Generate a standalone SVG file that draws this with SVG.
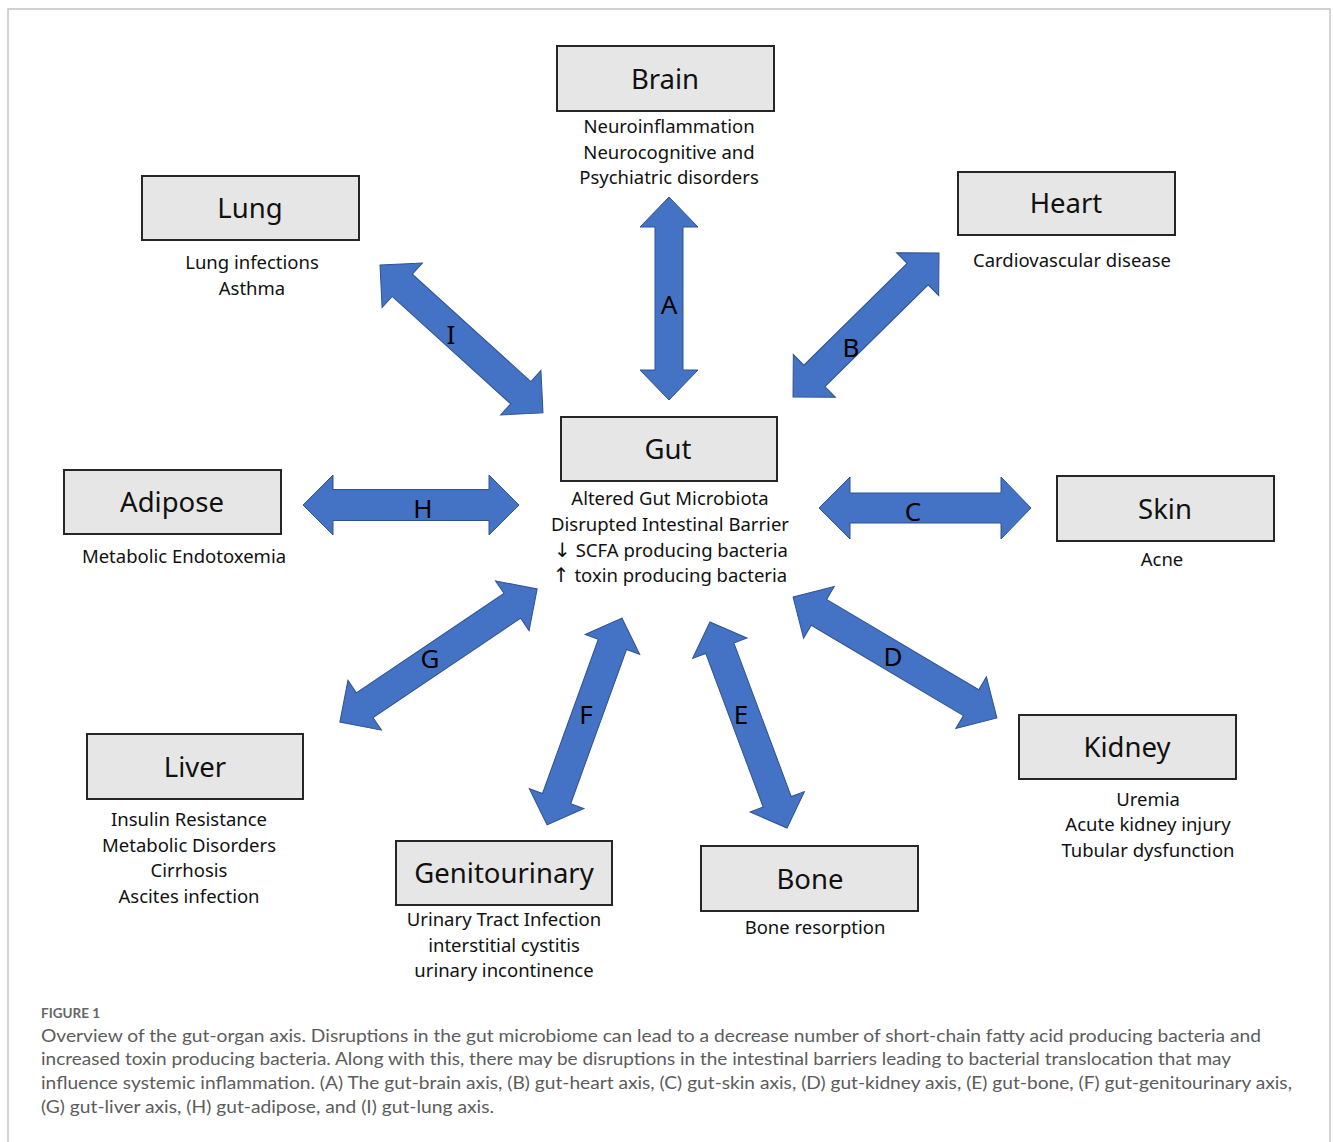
<svg xmlns="http://www.w3.org/2000/svg" width="1333" height="1142" viewBox="0 0 1333 1142">
<style>
.frame{fill:#fff;stroke:#c4c4c4;stroke-width:1.5}
.box{fill:#e7e6e6;stroke:#262626;stroke-width:2}
.title{font-family:"Noto Sans","Open Sans",sans-serif;font-size:27.5px;fill:#111;text-anchor:middle}
.sub{font-family:"Noto Sans","Open Sans",sans-serif;font-size:18.5px;fill:#111;text-anchor:middle}
.sym{font-family:"DejaVu Sans",sans-serif;font-size:20px;fill:#111}
.arr{fill:#4472c4;stroke:#2f528f;stroke-width:1}
.lbl{font-family:"Noto Sans","Open Sans",sans-serif;font-size:26px;fill:#000;text-anchor:middle}
.figno{font-family:Lato,"Open Sans",sans-serif;font-size:13.5px;fill:#666;font-weight:700}
.cap{font-family:Lato,"Open Sans",sans-serif;font-size:17.5px;fill:#5c5c5c;font-weight:400}
</style>
<rect class="frame" x="8" y="9" width="1322" height="1150"/>

<g id="connectors">
  <g id="arrow-A">
    <path class="arr" transform="translate(669,298.5) rotate(90)" d="M-101.5,0 L-71.5,-29 L-71.5,-14 L71.5,-14 L71.5,-29 L101.5,0 L71.5,29 L71.5,14 L-71.5,14 L-71.5,29 Z"/>
    <text class="lbl" x="669" y="314">A</text>
  </g>
  <g id="arrow-B">
    <path class="arr" transform="translate(866,325) rotate(-44.6)" d="M-102.5,0 L-72.5,-30 L-72.5,-15 L72.5,-15 L72.5,-30 L102.5,0 L72.5,30 L72.5,15 L-72.5,15 L-72.5,30 Z"/>
    <text class="lbl" x="851" y="357">B</text>
  </g>
  <g id="arrow-C">
    <path class="arr" transform="translate(925,508)" d="M-106,0 L-75,-31 L-75,-15 L76,-15 L76,-31 L106,0 L76,31 L76,15 L-75,15 L-75,31 Z"/>
    <text class="lbl" x="913" y="521">C</text>
  </g>
  <g id="arrow-D">
    <path class="arr" transform="translate(895,657.5) rotate(30.7)" d="M-118.5,0 L-88.5,-30 L-88.5,-15 L88.5,-15 L88.5,-30 L118.5,0 L88.5,30 L88.5,15 L-88.5,15 L-88.5,30 Z"/>
    <text class="lbl" x="893" y="666">D</text>
  </g>
  <g id="arrow-E">
    <path class="arr" transform="translate(748.5,725) rotate(69.5)" d="M-110,0 L-82,-29 L-82,-15 L82,-15 L82,-29 L110,0 L82,29 L82,15 L-82,15 L-82,29 Z"/>
    <text class="lbl" x="741" y="724">E</text>
  </g>
  <g id="arrow-F">
    <path class="arr" transform="translate(584.5,721.5) rotate(109.9)" d="M-110,0 L-82,-29 L-82,-15 L82,-15 L82,-29 L110,0 L82,29 L82,15 L-82,15 L-82,29 Z"/>
    <text class="lbl" x="586" y="724">F</text>
  </g>
  <g id="arrow-G">
    <path class="arr" transform="translate(438.5,655.5) rotate(-34)" d="M-119,0 L-89,-30 L-89,-15 L89,-15 L89,-30 L119,0 L89,30 L89,15 L-89,15 L-89,30 Z"/>
    <text class="lbl" x="430" y="668">G</text>
  </g>
  <g id="arrow-H">
    <path class="arr" transform="translate(411,505)" d="M-108,0 L-78,-30 L-78,-15.5 L78,-15.5 L78,-30 L108,0 L78,30 L78,15.5 L-78,15.5 L-78,30 Z"/>
    <text class="lbl" x="423" y="518">H</text>
  </g>
  <g id="arrow-I">
    <path class="arr" transform="translate(461.5,339) rotate(42.2)" d="M-110,0 L-80,-30 L-80,-15 L80,-15 L80,-30 L110,0 L80,30 L80,15 L-80,15 L-80,30 Z"/>
    <text class="lbl" x="451" y="344">I</text>
  </g>
</g>

<g id="brain">
  <rect class="box" x="557" y="46" width="217" height="65"/>
  <text class="title" x="665" y="89">Brain</text>
  <text class="sub" x="669" y="133">Neuroinflammation</text>
  <text class="sub" x="669" y="159">Neurocognitive and</text>
  <text class="sub" x="669" y="184">Psychiatric disorders</text>
</g>
<g id="lung">
  <rect class="box" x="142" y="176" width="217" height="64"/>
  <text class="title" x="250" y="218">Lung</text>
  <text class="sub" x="252" y="269">Lung infections</text>
  <text class="sub" x="252" y="295">Asthma</text>
</g>
<g id="heart">
  <rect class="box" x="958" y="172" width="217" height="63"/>
  <text class="title" x="1066" y="213">Heart</text>
  <text class="sub" x="1072" y="267">Cardiovascular disease</text>
</g>
<g id="gut">
  <rect class="box" x="561" y="417" width="216" height="64"/>
  <text class="title" x="668" y="459">Gut</text>
  <text class="sub" x="670" y="505">Altered Gut Microbiota</text>
  <text class="sub" x="670" y="531">Disrupted Intestinal Barrier</text>
  <text class="sub" x="671" y="557"><tspan class="sym">↓</tspan>  SCFA producing bacteria</text>
  <text class="sub" x="670" y="582"><tspan class="sym">↑</tspan> toxin producing bacteria</text>
</g>
<g id="adipose">
  <rect class="box" x="64" y="470" width="217" height="64"/>
  <text class="title" x="172" y="512">Adipose</text>
  <text class="sub" x="184" y="563">Metabolic Endotoxemia</text>
</g>
<g id="skin">
  <rect class="box" x="1057" y="476" width="217" height="65"/>
  <text class="title" x="1165" y="519">Skin</text>
  <text class="sub" x="1162" y="566">Acne</text>
</g>
<g id="liver">
  <rect class="box" x="87" y="734" width="216" height="65"/>
  <text class="title" x="195" y="777">Liver</text>
  <text class="sub" x="189" y="826">Insulin Resistance</text>
  <text class="sub" x="189" y="852">Metabolic Disorders</text>
  <text class="sub" x="189" y="877">Cirrhosis</text>
  <text class="sub" x="189" y="903">Ascites infection</text>
</g>
<g id="kidney">
  <rect class="box" x="1019" y="715" width="217" height="64"/>
  <text class="title" x="1127" y="757">Kidney</text>
  <text class="sub" x="1148" y="806">Uremia</text>
  <text class="sub" x="1148" y="831">Acute kidney injury</text>
  <text class="sub" x="1148" y="857">Tubular dysfunction</text>
</g>
<g id="genitourinary">
  <rect class="box" x="396" y="841" width="216" height="64"/>
  <text class="title" x="504" y="883">Genitourinary</text>
  <text class="sub" x="504" y="926">Urinary Tract Infection</text>
  <text class="sub" x="504" y="952">interstitial cystitis</text>
  <text class="sub" x="504" y="977">urinary incontinence</text>
</g>
<g id="bone">
  <rect class="box" x="701" y="846" width="217" height="65"/>
  <text class="title" x="810" y="889">Bone</text>
  <text class="sub" x="815" y="934">Bone resorption</text>
</g>

<g id="caption">
  <text class="figno" x="41" y="1018">FIGURE 1</text>
  <text class="cap" x="41" y="1042" textLength="1220" lengthAdjust="spacingAndGlyphs">Overview of the gut-organ axis. Disruptions in the gut microbiome can lead to a decrease number of short-chain fatty acid producing bacteria and</text>
  <text class="cap" x="41" y="1065" textLength="1190" lengthAdjust="spacingAndGlyphs">increased toxin producing bacteria. Along with this, there may be disruptions in the intestinal barriers leading to bacterial translocation that may</text>
  <text class="cap" x="41" y="1089" textLength="1251" lengthAdjust="spacingAndGlyphs">influence systemic inflammation. (A) The gut-brain axis, (B) gut-heart axis, (C) gut-skin axis, (D) gut-kidney axis, (E) gut-bone, (F) gut-genitourinary axis,</text>
  <text class="cap" x="41" y="1113" textLength="453" lengthAdjust="spacingAndGlyphs">(G) gut-liver axis, (H) gut-adipose, and (I) gut-lung axis.</text>
</g>
</svg>
